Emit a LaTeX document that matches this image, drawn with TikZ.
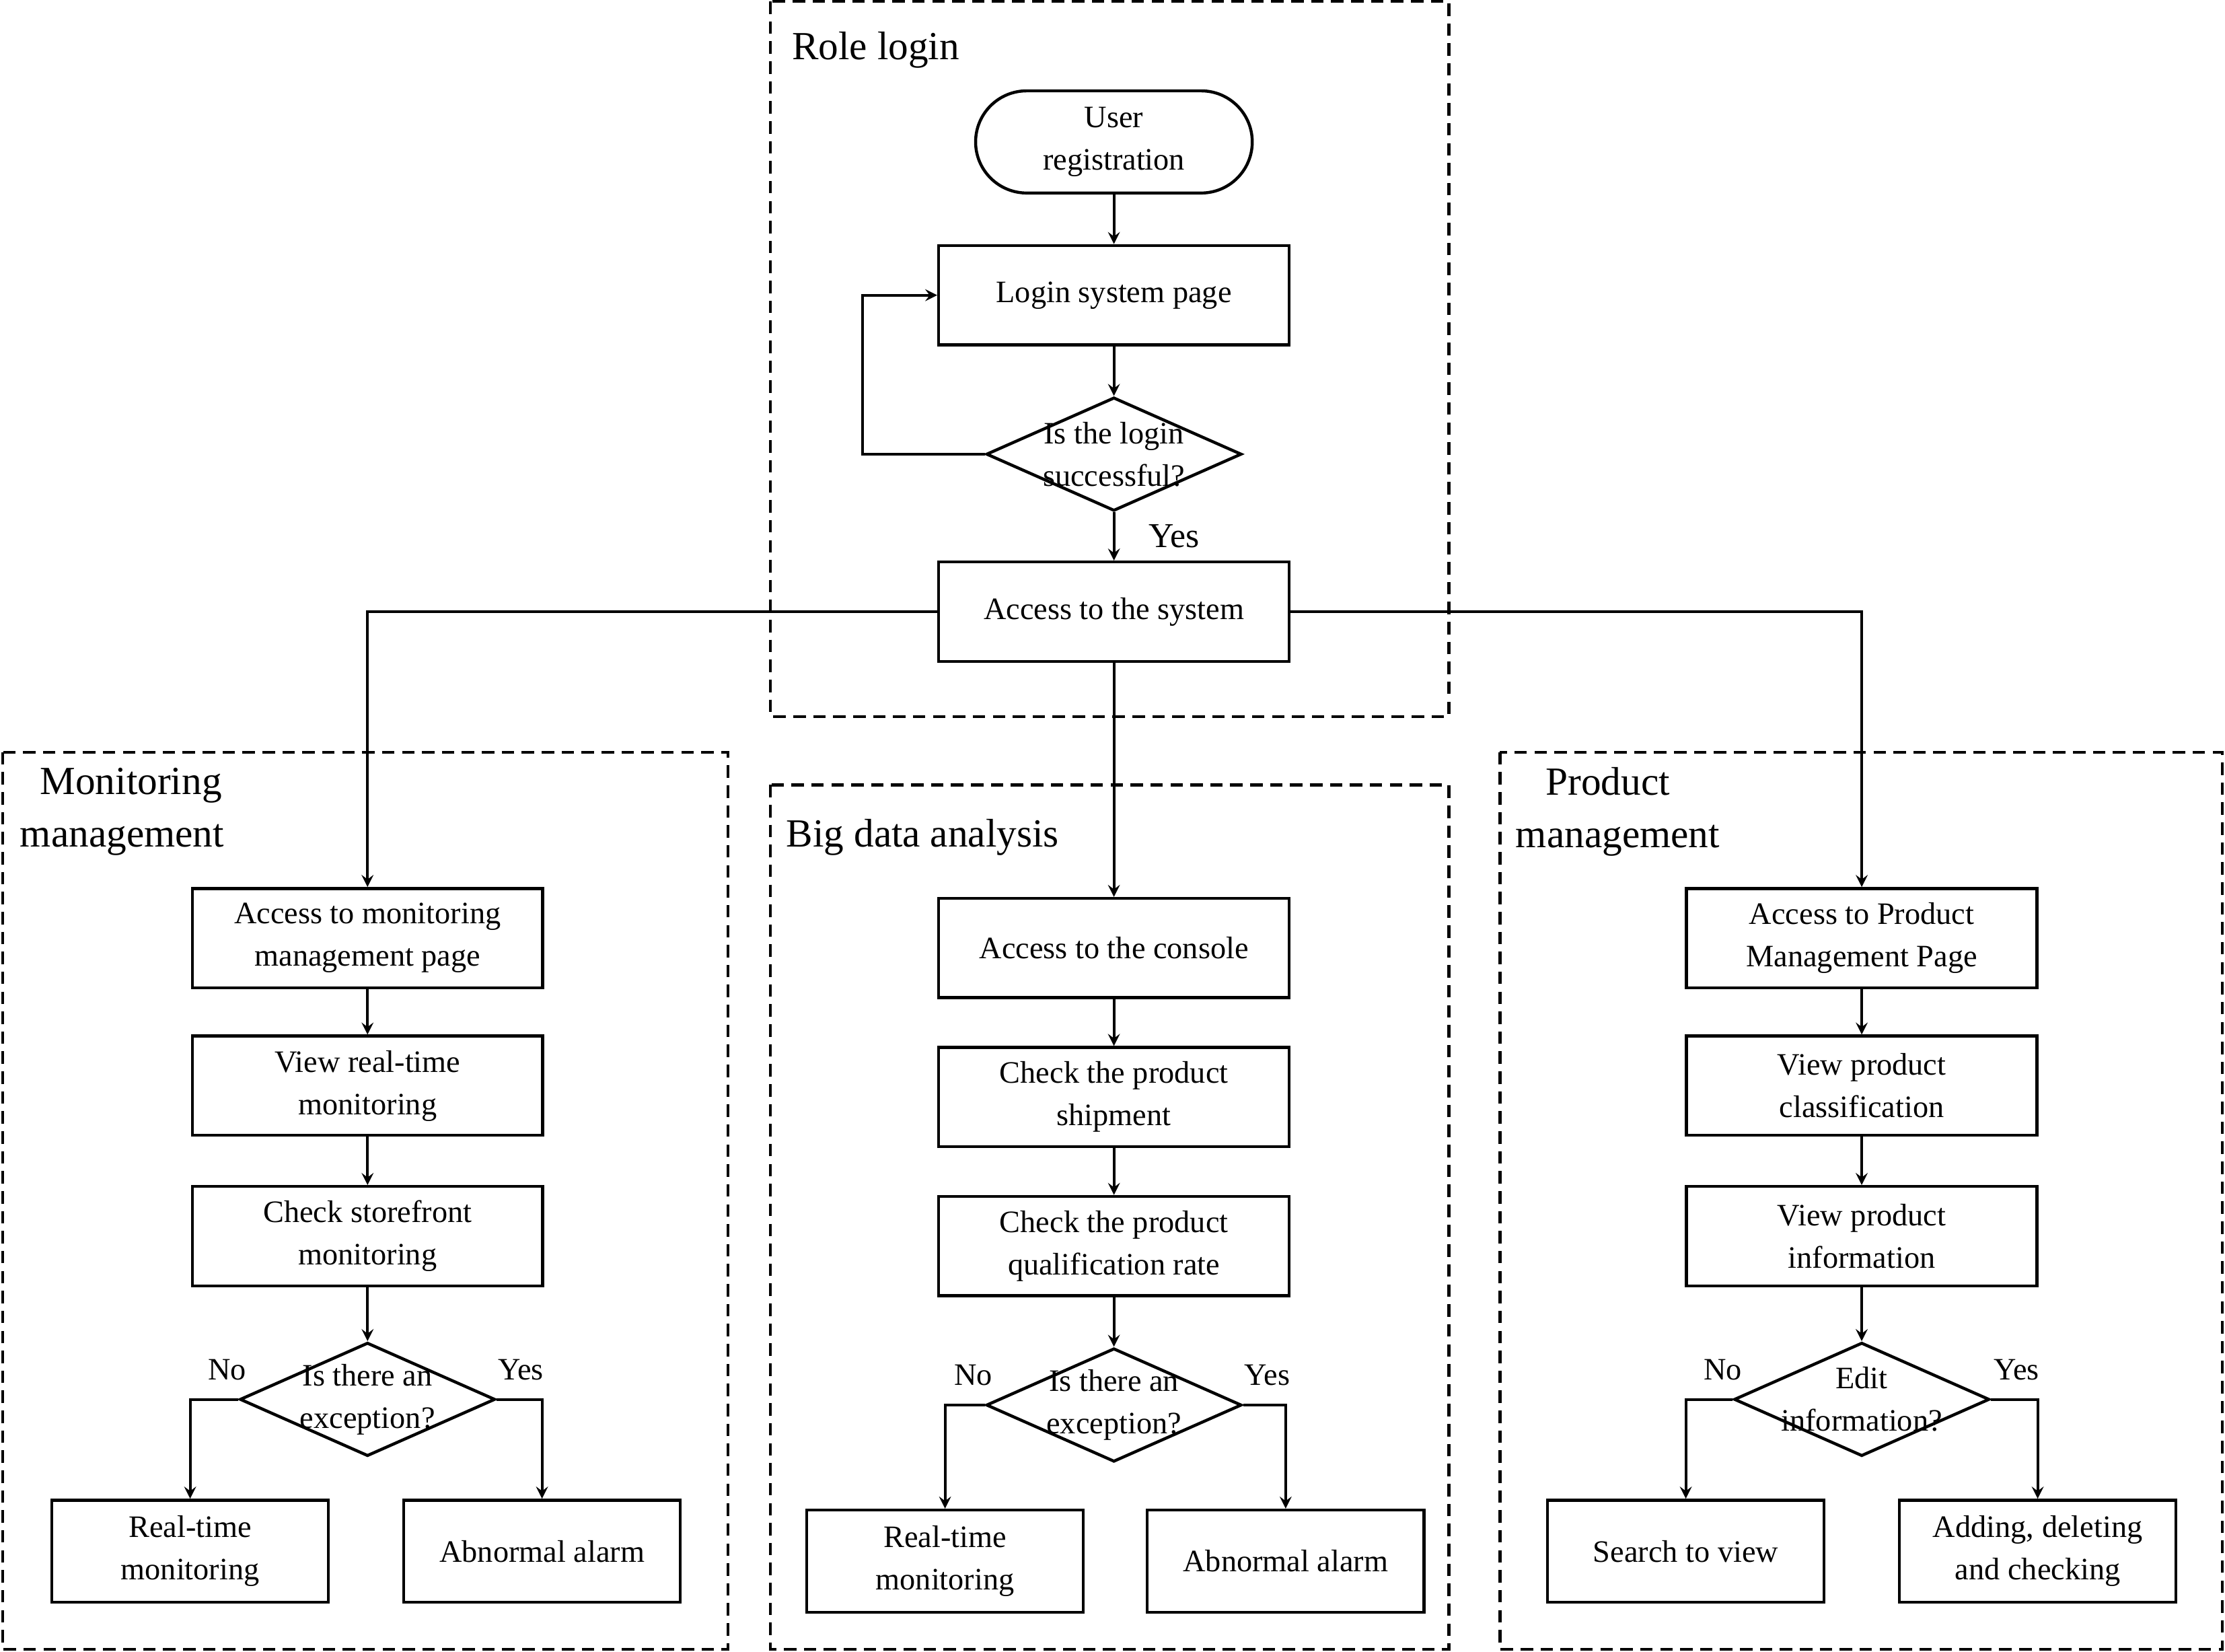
\documentclass[tikz,border=0pt]{standalone}
\usepackage{fontspec}
\setmainfont{Liberation Serif}
\usetikzlibrary{positioning, arrows, shapes.geometric}
\tikzset{
    >=stealth, % arrow heads
    every node/.style={font=\fontsize{12.5}{17}\selectfont, align=center},
    box/.style={draw, line width=1.2pt, minimum width=4.94cm, minimum height=1.4cm, inner sep=1pt},
    leaf/.style={draw, line width=1.2pt, minimum width=3.9cm, minimum height=1.44cm, inner sep=1pt},
    start/.style={draw, line width=1.2pt, rounded corners=0.72cm, minimum width=3.9cm, minimum height=1.44cm},
    decision/.style={draw, line width=1.2pt, diamond, aspect=2.25, minimum width=3.6cm, minimum height=1.6cm, inner sep=0pt},
    frame/.style={dashed, line width=1.2pt, dash pattern=on 5pt off 3pt},
    title/.style={font=\fontsize{16}{21}\selectfont, align=left, anchor=west},
    flow/.style={->, line width=1.1pt},
}
\begin{document}
\begin{tikzpicture}[x=0.02cm, y=-0.02cm]
    \useasboundingbox (0,0) rectangle (1568,1164);
    % Frames
    \draw[frame] (543,1) rectangle (1021,505);
    \draw[frame] (2,530) rectangle (513,1162);
    \draw[frame] (543,553) rectangle (1021,1162);
    \draw[frame] (1057,530) rectangle (1566,1162);
    \node[title] (trole) at (552,35) {Role login};
    \node[title, align=left] (tmon) at (8,572) {\ \ Monitoring\\management};
    \node[title] (tbig) at (548,590) {Big data analysis};
    \node[title, align=left] (tprod) at (1062,572) {\ \ \ Product\\management};

    % Role login
    \node[start] (reg) at (785,100) {User\\registration};
    \node[box] (login) at (785,208) {Login system page};
    \node[decision, label=center:{Is the login\\successful?}] (ok) at (785,320) {};
    \node[box] (sys) at (785,431) {Access to the system};
    \coordinate (loop) at (608,320);
    \draw[flow] (reg) -- (login);
    \draw[flow] (login) -- (ok);
    \draw[flow] (ok) -- node[right, xshift=10pt, font=\fontsize{14}{17}\selectfont] {Yes} (sys);
    \draw[flow] (ok.west) -- (loop) |- (login.west);

    % Monitoring management
    \node[box] (m1) at (259,661) {Access to monitoring\\management page};
    \node[box] (m2) at (259,765) {View real-time\\monitoring};
    \node[box] (m3) at (259,871) {Check storefront\\monitoring};
    \node[decision, label=center:{Is there an\\exception?}] (m4) at (259,986) {};
    \node[leaf] (m5) at (134,1093) {Real-time\\monitoring};
    \node[leaf] (m6) at (382,1093) {Abnormal alarm};
    \node (mno) at (160,965) {No};
    \node (myes) at (367,965) {Yes};

    % Big data analysis
    \node[box] (b1) at (785,668) {Access to the console};
    \node[box] (b2) at (785,773) {Check the product\\shipment};
    \node[box] (b3) at (785,878) {Check the product\\qualification rate};
    \node[decision, label=center:{Is there an\\exception?}] (b4) at (785,990) {};
    \node[leaf] (b5) at (666,1100) {Real-time\\monitoring};
    \node[leaf] (b6) at (906,1100) {Abnormal alarm};
    \node (bno) at (686,969) {No};
    \node (byes) at (893,969) {Yes};

    % Product management
    \node[box] (p1) at (1312,661) {Access to Product\\Management Page};
    \node[box] (p2) at (1312,765) {View product\\classification};
    \node[box] (p3) at (1312,871) {View product\\information};
    \node[decision, label=center:{Edit\\information?}] (p4) at (1312,986) {};
    \node[leaf] (p5) at (1188,1093) {Search to view};
    \node[leaf] (p6) at (1436,1093) {Adding, deleting\\and checking};
    \node (pno) at (1214,965) {No};
    \node (pyes) at (1421,965) {Yes};

    % Connections
    \draw[flow] (sys.west) -| (m1.north);
    \draw[flow] (sys.east) -| (p1.north);
    \draw[flow] (sys) -- (b1);
    \foreach \g in {m, b, p} {
        \draw[flow] (\g1) -- (\g2);
        \draw[flow] (\g2) -- (\g3);
        \draw[flow] (\g3) -- (\g4);
        \draw[flow] (\g4.west) -| (\g5.north);
        \draw[flow] (\g4.east) -| (\g6.north);
    }
\end{tikzpicture}
\end{document}
